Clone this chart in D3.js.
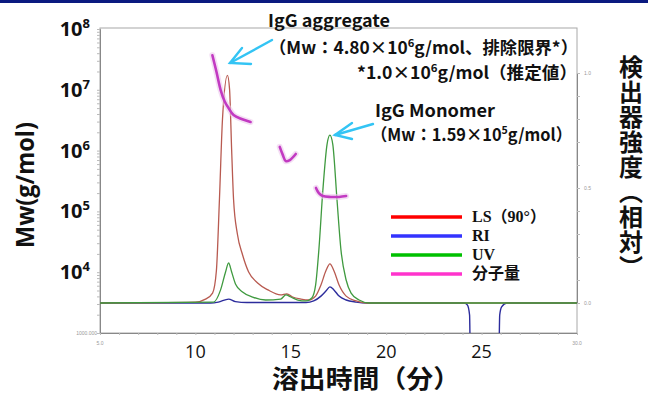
<!DOCTYPE html>
<html><head><meta charset="utf-8">
<script src="https://cdn.jsdelivr.net/npm/d3@7"></script>
<style>body{margin:0;background:#fff}svg{display:block}</style>
</head><body>
<svg id="chart" width="648" height="394"></svg>
<script>
// Elution time (min) vs. relative detector intensity
const lsSignal = [[5,0],[10.0,0.004],[10.53,0.017],[10.9,0.043],[11.1,0.14],[11.26,0.45],[11.42,0.80],[11.68,0.99],[11.79,0.93],[11.9,0.665],[12.0,0.45],[12.2,0.30],[12.47,0.21],[12.79,0.135],[13.26,0.087],[13.8,0.057],[14.47,0.035],[14.79,0.04],[15.1,0.026],[15.53,0.017],[15.95,0.013],[16.3,0.03],[16.58,0.078],[16.84,0.14],[17.05,0.17],[17.26,0.14],[17.53,0.078],[17.9,0.03],[18.42,0.009],[18.95,0],[30,0]];
const riSignal = [[5,0],[10.8,0],[11.2,0.004],[11.74,0.017],[12.1,0.006],[12.7,0.002],[15.8,0.002],[16.2,0.009],[16.58,0.03],[16.84,0.052],[17.05,0.07],[17.26,0.057],[17.53,0.03],[17.9,0.013],[18.42,0.004],[19.0,0],[24.1,0],[24.26,-0.009],[24.37,-0.052],[24.42,-0.3],[25.89,-0.3],[25.95,-0.052],[26.05,-0.017],[26.32,0],[30,0]];
const uvSignal = [[5,0],[10.95,0.004],[11.32,0.057],[11.58,0.135],[11.74,0.174],[11.9,0.135],[12.1,0.083],[12.47,0.048],[13.0,0.026],[13.68,0.013],[14.47,0.017],[14.74,0.035],[15.0,0.026],[15.37,0.013],[15.79,0.009],[16.1,0.022],[16.3,0.078],[16.47,0.23],[16.68,0.49],[16.9,0.69],[17.05,0.73],[17.2,0.69],[17.42,0.45],[17.63,0.23],[17.9,0.10],[18.16,0.043],[18.58,0.013],[19.1,0],[30,0]];

// Molar mass (g/mol) across each peak
const mwAggregate = [[10.89,3.7e7],[11.1,2.0e7],[11.32,1.0e7],[11.53,6.5e6],[11.74,5.0e6],[12.0,3.85e6],[12.42,3.3e6],[12.89,2.95e6]];
const mwMiddle = [[14.42,1.15e6],[14.58,8.5e5],[14.74,6.7e5],[14.95,7.0e5],[15.26,8.8e5]];
const mwMonomer = [[16.32,2.43e5],[16.47,2.0e5],[16.68,1.79e5],[17.1,1.73e5],[17.53,1.73e5],[17.9,1.79e5]];

const timeTicks = [10,15,20,25];
const mwTicks = [1e4,1e5,1e6,1e7,1e8];
const detTicks = [0,0.5,1];

const legendItems = [
  {label:"LS（90°）", color:"#ff0000"},
  {label:"RI", color:"#3333ff"},
  {label:"UV", color:"#00c000"},
  {label:"分子量", color:"#ff33cc"}
];

const svg = d3.select("#chart");
const W = 648, H = 394;
const pLeft = 100, pRight = 577, pTop = 28, pBottom = 333;

const x = d3.scaleLinear().domain([5,30]).range([pLeft,pRight]);
const yMw = d3.scaleLog().domain([1e3,1e8]).range([pBottom,29]);
const yDet = d3.scaleLinear().domain([0,1]).range([303,73]);

// header strip
svg.append("rect").attr("x",0).attr("y",0).attr("width",W).attr("height",3).attr("fill","#0a1a80");

// frame
svg.append("rect").attr("x",pLeft).attr("y",pTop).attr("width",pRight-pLeft).attr("height",pBottom-pTop)
  .attr("fill","none").attr("stroke","#a8a8a8").attr("stroke-width",1);

svg.append("defs").append("clipPath").attr("id","plot")
  .append("rect").attr("x",pLeft).attr("y",pTop).attr("width",pRight-pLeft).attr("height",pBottom-pTop);

// left log axis: minor ticks, big decade labels
const minor = [];
for (let e=3;e<8;e++) for (let m=1;m<10;m++) minor.push(m*Math.pow(10,e));
minor.push(1e8);
const gL = svg.append("g").attr("transform",`translate(${pLeft},0)`);
gL.call(d3.axisLeft(yMw).tickValues(minor).tickSize(3).tickFormat(""));
gL.select(".domain").attr("stroke","#888");
gL.selectAll(".tick line").attr("stroke","#bbb");
mwTicks.forEach(v=>{
  const t = svg.append("text").attr("x",90).attr("y",yMw(v)+7).attr("text-anchor","end")
    .attr("font-family","'Open Sans',sans-serif").attr("font-weight","bold").attr("font-size",20).attr("fill","#111");
  t.append("tspan").text("10");
  t.append("tspan").attr("dy",-8).attr("font-size",13).text(Math.round(Math.log10(v)));
});
svg.append("text").attr("x",97).attr("y",335).attr("text-anchor","end").attr("font-family","sans-serif")
  .attr("font-size",5).attr("fill","#999").text("1000.000");

// bottom axis
const gB = svg.append("g").attr("transform",`translate(0,${pBottom})`);
gB.call(d3.axisBottom(x).tickValues(d3.range(5,30.01,1)).tickSize(2).tickFormat(""));
gB.select(".domain").attr("stroke","#888");
gB.selectAll(".tick line").attr("stroke","#bbb");
timeTicks.forEach(v=>{
  svg.append("text").attr("x",x(v)).attr("y",358).attr("text-anchor","middle")
    .attr("font-family","'Open Sans',sans-serif").attr("font-size",18).attr("fill","#111").text(v);
});
svg.append("text").attr("x",x(5)).attr("y",345).attr("text-anchor","middle").attr("font-family","sans-serif")
  .attr("font-size",5).attr("fill","#999").text("5.0");
svg.append("text").attr("x",x(30)).attr("y",345).attr("text-anchor","middle").attr("font-family","sans-serif")
  .attr("font-size",5).attr("fill","#999").text("30.0");

// right detector axis
const gR = svg.append("g").attr("transform",`translate(${pRight},0)`);
gR.call(d3.axisRight(yDet).tickValues(d3.range(0,1.001,0.1)).tickSize(3).tickFormat(""));
gR.select(".domain").attr("stroke","#888");
gR.selectAll(".tick line").attr("stroke","#bbb");
detTicks.forEach(v=>{
  svg.append("text").attr("x",584).attr("y",yDet(v)+2).attr("font-family","sans-serif")
    .attr("font-size",5).attr("fill","#999").text(v.toFixed(1));
});

// detector traces
const plot = svg.append("g").attr("clip-path","url(#plot)");
const detLine = d3.line().x(d=>x(d[0])).y(d=>yDet(d[1])).curve(d3.curveMonotoneX);
plot.append("path").datum(riSignal).attr("d",detLine).attr("fill","none").attr("stroke","#2c2c9c").attr("stroke-width",1.4);
plot.append("path").datum(lsSignal).attr("d",detLine).attr("fill","none").attr("stroke","#b85a50").attr("stroke-width",1.3);
plot.append("path").datum(uvSignal).attr("d",detLine).attr("fill","none").attr("stroke","#3f9a3f").attr("stroke-width",1.3);

// molar mass traces
const mwLine = d3.line().x(d=>x(d[0])).y(d=>yMw(d[1])).curve(d3.curveCatmullRom);
[mwAggregate, mwMiddle, mwMonomer].forEach(seg=>{
  plot.append("path").datum(seg).attr("d",mwLine).attr("fill","none").attr("stroke","#eccaec")
    .attr("stroke-width",6).attr("stroke-linecap","round").attr("opacity",0.6);
  plot.append("path").datum(seg).attr("d",mwLine).attr("fill","none").attr("stroke","#c23ac2")
    .attr("stroke-width",2.6).attr("stroke-linecap","round");
});

// legend
const lg = svg.append("g");
legendItems.forEach((d,i)=>{
  const y = 217 + i*19;
  lg.append("line").attr("x1",391).attr("x2",462).attr("y1",y).attr("y2",y)
    .attr("stroke",d.color).attr("stroke-width",3.5);
  lg.append("text").attr("x",472).attr("y",y+5).attr("font-family","'Liberation Serif','Noto Sans CJK JP',serif")
    .attr("font-weight","bold").attr("font-size",16).attr("fill","#111").text(d.label);
});

// annotations
const annFont = "'Noto Sans CJK JP',sans-serif";
function ann(xp, yp, parts, width, anchor){
  const t = svg.append("text").attr("x",xp).attr("y",yp).attr("text-anchor",anchor||"start")
    .attr("font-family",annFont).attr("font-weight","bold").attr("font-size",17).attr("fill","#111");
  if (width) t.attr("textLength",width).attr("lengthAdjust","spacingAndGlyphs");
  parts.forEach(p=>{
    if (typeof p === "string") t.append("tspan").text(p);
    else { t.append("tspan").attr("dy",-7).attr("font-size",11).text(p.sup);
           t.append("tspan").attr("dy",7).text(p.after); }
  });
  return t;
}
ann(268,27,["IgG aggregate"],122);
ann(269,54,["（Mw：4.80×10",{sup:"6",after:"g/mol、排除限界*）"}],309);
ann(357,79,["*1.0×10",{sup:"6",after:"g/mol（推定値）"}],220);
ann(375,117,["IgG Monomer"],120);
ann(371,141,["（Mw：1.59×10",{sup:"5",after:"g/mol）"}],201);

// arrows
const arrowColor = "#33c4f4";
function arrow(x1,y1,x2,y2,a1,a2){
  const g = svg.append("g").attr("stroke",arrowColor).attr("stroke-width",2.4).attr("fill","none").attr("stroke-linecap","round");
  g.append("line").attr("x1",x1).attr("y1",y1).attr("x2",x2).attr("y2",y2);
  g.append("polyline").attr("points",`${a1[0]},${a1[1]} ${x2},${y2} ${a2[0]},${a2[1]}`);
}
arrow(272,40,230,63,[242,48],[251,64]);
arrow(373,124,335,135,[352,123],[352,139]);

// axis titles
svg.append("text").attr("transform","translate(34,185) rotate(-90)").attr("text-anchor","middle")
  .attr("font-family","'Open Sans',sans-serif").attr("font-weight","bold").attr("font-size",25).attr("fill","#111")
  .attr("textLength",126).attr("lengthAdjust","spacingAndGlyphs")
  .text("Mw(g/mol)");
svg.append("text").attr("x",366).attr("y",388).attr("text-anchor","middle")
  .attr("font-family",annFont).attr("font-weight","bold").attr("font-size",25).attr("fill","#111")
  .attr("textLength",188).attr("lengthAdjust","spacingAndGlyphs")
  .text("溶出時間（分）");
svg.append("text").attr("x",631).attr("y",167).attr("text-anchor","middle")
  .attr("writing-mode","vertical-rl").style("text-orientation","mixed")
  .attr("font-family",annFont).attr("font-weight","bold").attr("font-size",24).attr("fill","#111")
  .attr("letter-spacing",1)
  .text("検出器強度（相対）");
</script>
</body></html>
